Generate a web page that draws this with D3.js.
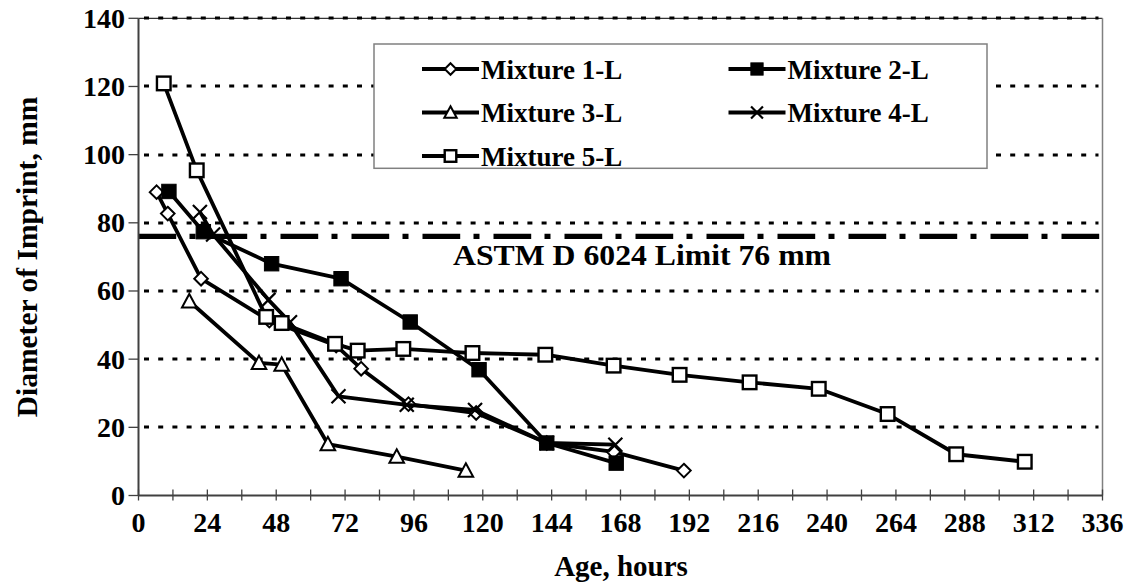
<!DOCTYPE html>
<html><head><meta charset="utf-8">
<script src="https://cdn.jsdelivr.net/npm/d3@7"></script>
<style>
body{margin:0;background:#fff}
svg{display:block}
text{font-family:"Liberation Serif","Times New Roman",serif;font-weight:bold;fill:#000}
</style>
</head><body>
<svg id="c" width="1131" height="588"></svg>
<script>
// ---- data ----
const xTicks = [0,24,48,72,96,120,144,168,192,216,240,264,288,312,336];
const yTicks = [0,20,40,60,80,100,120,140];
const seriesNames = ["Mixture 1-L","Mixture 2-L","Mixture 3-L","Mixture 4-L","Mixture 5-L"];
const seriesSymbols = ["diamond","filledSquare","triangle","cross","openSquare"];

const m1Hours  = [6.3, 10.2, 21.8, 45.6, 68.9, 77.6, 94.1, 117.7, 142.3, 165.6, 190.1];
const m1Values = [89, 82.7, 63.6, 51.3, 44, 37.2, 26.8, 24.2, 15.4, 12.8, 7.3];

const m2Hours  = [10.6, 22.6, 46.4, 70.6, 94.7, 118.7, 142.3, 166.5];
const m2Values = [89.2, 77.4, 68, 63.6, 50.9, 36.9, 15.4, 9.5];

const m3Hours  = [17.7, 42, 49.9, 66, 90, 114.1];
const m3Values = [57, 38.9, 38.4, 15.1, 11.4, 7.3];

const m4Hours  = [21.4, 26, 45.3, 52.8, 69.7, 93.5, 117.3, 142.3, 166.2];
const m4Values = [83.2, 76.6, 57.4, 50.8, 29.1, 26.6, 25.1, 15.4, 14.9];

const m5Hours  = [8.8, 20.3, 44.5, 49.9, 68.5, 76.4, 92.3, 116.4, 141.8, 165.6, 188.6, 213, 237.1, 261.1, 285, 308.9];
const m5Values = [120.9, 95.4, 52.4, 50.6, 44.5, 42.5, 43, 41.8, 41.3, 38.1, 35.4, 33.2, 31.3, 23.9, 12.1, 9.9];

const astmLimit = 76;
const astmLabel = "ASTM D 6024 Limit 76 mm";
const xTitle = "Age, hours";
const yTitle = "Diameter of Imprint, mm";

const allHours = [m1Hours,m2Hours,m3Hours,m4Hours,m5Hours];
const allValues = [m1Values,m2Values,m3Values,m4Values,m5Values];

// ---- drawing ----
const svg = d3.select("#c");
const x = d3.scaleLinear().domain([0,336]).range([138.5,1102.5]);
const y = d3.scaleLinear().domain([0,140]).range([495.5,18.3]);

// gridlines
svg.append("g").selectAll("line").data(yTicks.filter(d=>d>0)).join("line")
  .attr("x1",144).attr("x2",x(336)-4)
  .attr("y1",d=>Math.round(y(d))).attr("y2",d=>Math.round(y(d)))
  .attr("stroke","#000").attr("stroke-width",3).attr("stroke-dasharray","5,9.2");

// plot frame top & right
svg.append("line").attr("x1",x(0)).attr("x2",x(336)).attr("y1",y(140)).attr("y2",y(140))
  .attr("stroke","#000").attr("stroke-width",1);
svg.append("line").attr("x1",x(336)).attr("x2",x(336)).attr("y1",y(140)).attr("y2",y(0))
  .attr("stroke","#808080").attr("stroke-width",1.5);

// ASTM limit line
svg.append("line").attr("x1",x(0)).attr("x2",x(336)-3).attr("y1",y(astmLimit)).attr("y2",y(astmLimit))
  .attr("stroke","#000").attr("stroke-width",5.3).attr("stroke-dasharray","37.7,13.3,6,14");
svg.append("text").attr("x",453).attr("y",265).attr("font-size",30)
  .attr("textLength",378).attr("lengthAdjust","spacingAndGlyphs").text(astmLabel);

// axes
svg.append("g").selectAll("line").data(d3.range(0,337,12)).join("line")
  .attr("x1",d=>x(d)).attr("x2",d=>x(d)).attr("y1",y(0)-6).attr("y2",y(0)+5)
  .attr("stroke","#404040").attr("stroke-width",1.3);
svg.append("line").attr("x1",x(0)).attr("x2",x(336)).attr("y1",y(0)).attr("y2",y(0))
  .attr("stroke","#404040").attr("stroke-width",2);
svg.append("g").selectAll("line").data(yTicks).join("line")
  .attr("x1",x(0)-10).attr("x2",x(0)).attr("y1",d=>y(d)).attr("y2",d=>y(d))
  .attr("stroke","#404040").attr("stroke-width",1.3);
svg.append("line").attr("x1",x(0)).attr("x2",x(0)).attr("y1",y(140)).attr("y2",y(0))
  .attr("stroke","#404040").attr("stroke-width",2);

svg.append("g").selectAll("text").data(xTicks).join("text")
  .attr("x",d=>x(d)).attr("y",532).attr("text-anchor","middle").attr("font-size",28).text(d=>d);
svg.append("g").selectAll("text").data(yTicks).join("text")
  .attr("x",125).attr("y",d=>y(d)+9.5).attr("text-anchor","end").attr("font-size",28).text(d=>d);

svg.append("text").attr("x",621).attr("y",576).attr("text-anchor","middle").attr("font-size",29).text(xTitle);
svg.append("text").attr("transform","translate(37,257) rotate(-90)").attr("text-anchor","middle")
  .attr("font-size",29.5).text(yTitle);

// symbols
function drawSymbol(g, type, cx, cy, s){
  s = s||1;
  if(type==="diamond"){
    const r=6.8*s;
    g.append("path").attr("d",`M${cx},${cy-r}L${cx+r},${cy}L${cx},${cy+r}L${cx-r},${cy}Z`)
      .attr("fill","#fff").attr("stroke","#000").attr("stroke-width",2);
  } else if(type==="filledSquare"){
    const h=7.2*s;
    g.append("rect").attr("x",cx-h).attr("y",cy-h).attr("width",2*h).attr("height",2*h)
      .attr("fill","#000").attr("stroke","#000").attr("stroke-width",1);
  } else if(type==="triangle"){
    const h=7.3*s;
    g.append("path").attr("d",`M${cx},${cy-h}L${cx+h},${cy+h*0.85}L${cx-h},${cy+h*0.85}Z`)
      .attr("fill","#fff").attr("stroke","#000").attr("stroke-width",2);
  } else if(type==="cross"){
    const h=7*s;
    g.append("path").attr("d",`M${cx-h},${cy-h}L${cx+h},${cy+h}M${cx+h},${cy-h}L${cx-h},${cy+h}`)
      .attr("fill","none").attr("stroke","#000").attr("stroke-width",2.2);
  } else if(type==="openSquare"){
    const h=6.8*s;
    g.append("rect").attr("x",cx-h).attr("y",cy-h).attr("width",2*h).attr("height",2*h)
      .attr("fill","#fff").attr("stroke","#000").attr("stroke-width",2.4);
  }
}

const line = d3.line().x(d=>x(d[0])).y(d=>y(d[1]));
allHours.forEach((hs,i)=>{
  const pts = hs.map((h,j)=>[h, allValues[i][j]]);
  const g = svg.append("g");
  g.append("path").attr("d",line(pts)).attr("fill","none").attr("stroke","#000")
    .attr("stroke-width",3.8).attr("stroke-linejoin","round");
  pts.forEach(p=>drawSymbol(g, seriesSymbols[i], x(p[0]), y(p[1])));
});

// legend
const lg = svg.append("g");
lg.append("rect").attr("x",374).attr("y",44).attr("width",613).attr("height",124.3)
  .attr("fill","#fff").attr("stroke","#808080").attr("stroke-width",1.5);
const legCols = [422, 728.5];
const legRows = [69, 112.5, 156];
seriesNames.forEach((n,i)=>{
  const cx = legCols[i%2], cy = legRows[Math.floor(i/2)];
  lg.append("line").attr("x1",cx).attr("x2",cx+57).attr("y1",cy).attr("y2",cy)
    .attr("stroke","#000").attr("stroke-width",4);
  drawSymbol(lg, seriesSymbols[i], cx+28.5, cy, 0.85);
  lg.append("text").attr("x",cx+59).attr("y",cy+9.5).attr("font-size",27).text(n);
});
</script>
</body></html>
